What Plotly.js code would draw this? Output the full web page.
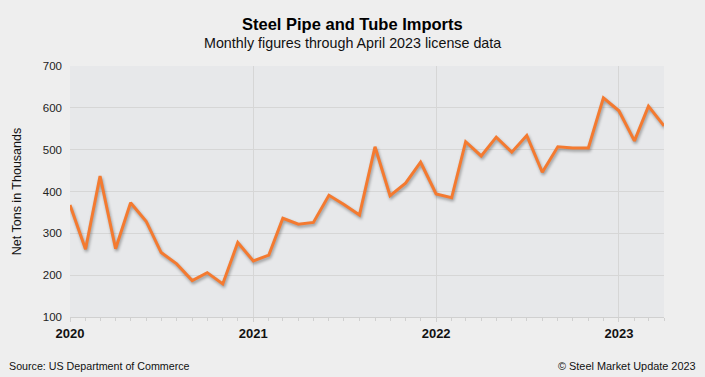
<!DOCTYPE html>
<html>
<head>
<meta charset="utf-8">
<script src="https://cdn.plot.ly/plotly-3.0.1.min.js"></script>
<style>
html,body{margin:0;padding:0;background:#eeeeee;}
#chart{width:705px;height:377px;}
.scatterlayer path.js-line{filter:drop-shadow(1px 2px 1.5px rgba(0,0,0,0.35));}
</style>
</head>
<body>
<div id="chart"></div>
<script>
const months = [
  '2020-01-01','2020-02-01','2020-03-01','2020-04-01','2020-05-01','2020-06-01',
  '2020-07-01','2020-08-01','2020-09-01','2020-10-01','2020-11-01','2020-12-01',
  '2021-01-01','2021-02-01','2021-03-01','2021-04-01','2021-05-01','2021-06-01',
  '2021-07-01','2021-08-01','2021-09-01','2021-10-01','2021-11-01','2021-12-01',
  '2022-01-01','2022-02-01','2022-03-01','2022-04-01','2022-05-01','2022-06-01',
  '2022-07-01','2022-08-01','2022-09-01','2022-10-01','2022-11-01','2022-12-01',
  '2023-01-01','2023-02-01','2023-03-01','2023-04-01'
];
const imports = [
  368, 262, 437, 263, 373, 329, 254, 227, 187, 206, 179, 278,
  234, 248, 336, 322, 326, 391, 369, 344, 507, 390, 420, 470,
  394, 385, 519, 485, 530, 494, 534, 446, 507, 504, 504, 624,
  593, 521, 604, 557
];
const yTicks = [100, 200, 300, 400, 500, 600, 700];
const xTickVals = ['2020-01-01','2021-01-01','2022-01-01','2023-01-01'];
const xTickText = ['<b>2020</b>','<b>2021</b>','<b>2022</b>','<b>2023</b>'];

const font = 'Liberation Sans, Arial, sans-serif';
const cx = (352.5 - 70) / 594;

Plotly.newPlot('chart', [{
  x: months,
  y: imports,
  type: 'scatter',
  mode: 'lines',
  line: {color: '#f47a30', width: 3},
  hoverinfo: 'skip'
}], {
  width: 705, height: 377,
  paper_bgcolor: '#eeeeee',
  plot_bgcolor: '#e7e8ea',
  margin: {l: 70, r: 41, t: 66, b: 60},
  showlegend: false,
  font: {family: font, color: '#222', size: 12},
  xaxis: {
    type: 'date',
    range: ['2020-01-01', '2023-04-01'],
    tickvals: xTickVals,
    ticktext: xTickText,
    tickfont: {size: 13, color: '#111'},
    showgrid: true,
    gridcolor: '#d6d6d6',
    gridwidth: 1,
    ticks: 'outside',
    ticklen: 4,
    tickcolor: '#d0d0d0',
    showline: true,
    linecolor: '#d0d0d0',
    zeroline: false,
    minor: {dtick: 'M1', tick0: '2020-01-01', ticks: 'outside', ticklen: 3, tickcolor: '#d0d0d0', showgrid: false},
    fixedrange: true
  },
  yaxis: {
    range: [100, 700],
    tickvals: yTicks,
    tickfont: {size: 11.5, color: '#222'},
    showgrid: true,
    gridcolor: '#d6d6d6',
    gridwidth: 1,
    zeroline: false,
    showline: false,
    ticks: '',
    ticklabelstandoff: 7,
    title: {text: 'Net Tons in Thousands', font: {size: 12.5, color: '#111'}, standoff: 18},
    fixedrange: true
  },
  annotations: [
    {text: '<b>Steel Pipe and Tube Imports</b>', xref: 'paper', yref: 'paper', x: cx, y: 1 + (66 - 24) / 251,
     showarrow: false, xanchor: 'center', yanchor: 'middle', font: {size: 16.5, color: '#000'}},
    {text: 'Monthly figures through April 2023 license data', xref: 'paper', yref: 'paper', x: cx, y: 1 + (66 - 43) / 251,
     showarrow: false, xanchor: 'center', yanchor: 'middle', font: {size: 14.3, color: '#111'}},
    {text: 'Source: US Department of Commerce', xref: 'paper', yref: 'paper', x: (7 - 70) / 594, y: -(366 - 317) / 251,
     showarrow: false, xanchor: 'left', yanchor: 'middle', font: {size: 10.7, color: '#111'}},
    {text: '© Steel Market Update 2023', xref: 'paper', yref: 'paper', x: (698 - 70) / 594, y: -(366 - 317) / 251,
     showarrow: false, xanchor: 'right', yanchor: 'middle', font: {size: 10.9, color: '#111'}}
  ]
}, {displayModeBar: false, staticPlot: true});
</script>
</body>
</html>
